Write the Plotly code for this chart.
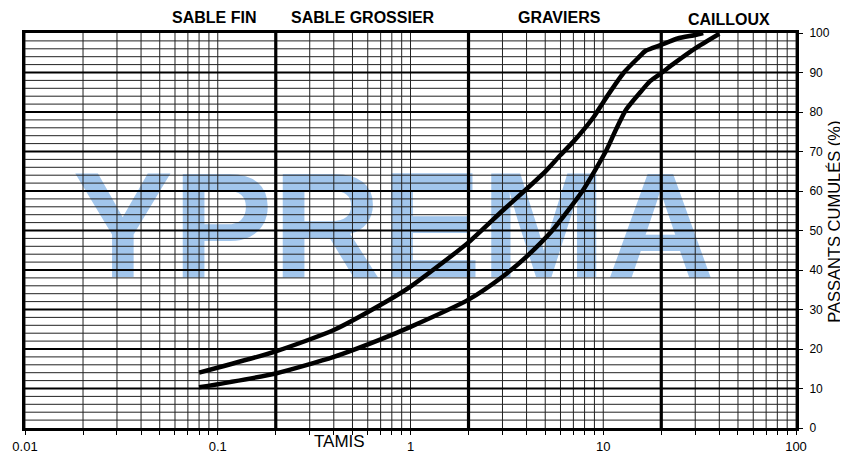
import plotly.graph_objects as go

# ---- data ----
fin_x = [0.08, 0.2, 0.4, 0.69, 1.0, 2.0, 3.0, 4.0, 5.0, 6.0, 7.0, 8.0, 9.0, 10.0, 12.8, 15.1, 16.6, 20.0, 24.3, 30.0, 33.0]
fin_y = [14.0, 19.4, 24.8, 31.0, 35.8, 47.0, 55.0, 60.5, 64.9, 69.1, 72.5, 75.8, 79.0, 82.5, 90.0, 93.6, 95.5, 97.0, 98.6, 99.5, 100.0]
gros_x = [0.08, 0.2, 0.4, 0.69, 1.0, 2.0, 3.0, 4.0, 5.44, 7.8, 10.3, 11.5, 13.1, 15.7, 17.5, 20.2, 23.3, 30.0, 40.0]
gros_y = [10.3, 13.8, 18.0, 22.3, 25.6, 32.5, 38.3, 43.4, 50.0, 60.0, 70.0, 75.0, 80.5, 85.2, 87.8, 90.0, 92.3, 96.1, 99.8]

zones = ["SABLE FIN", "SABLE GROSSIER", "GRAVIERS", "CAILLOUX"]
zone_x = [-1.02, -0.244, 0.772, 1.653]   # log10 positions
zone_y = [1.0405, 1.0405, 1.038, 1.033]
zone_limits = [0.2, 2, 20]
decades = [0.01, 0.1, 1, 10, 100]
decade_labels = ["0.01", "0.1", "1", "10", "100"]
y_ticks = list(range(0, 101, 10))

FONT = "Liberation Sans, Arial, sans-serif"

fig = go.Figure()

# watermark (below grid)
fig.add_trace(go.Scatter(
    x=[0.817], y=[47.8], mode="text", text=["<b>YPREMA</b>"],
    textfont=dict(family=FONT, size=150, color="#a2c6ec"),
    hoverinfo="skip", showlegend=False, cliponaxis=True))

# minor vertical positions
minor_x = []
for d in decades[:-1]:
    for k in range(1, 10):
        minor_x.append(k * d)
minor_x.append(100)

def vlines(xs):
    X, Y = [], []
    for v in xs:
        X += [v, v, None]; Y += [0, 100, None]
    return X, Y

def hlines(ys):
    X, Y = [], []
    for v in ys:
        X += [0.01, 100, None]; Y += [v, v, None]
    return X, Y

thin_v = [v for v in minor_x if not any(abs(v - z) < 1e-9 for z in zone_limits)]
X, Y = vlines(thin_v)
fig.add_trace(go.Scatter(x=X, y=Y, mode="lines", line=dict(color="#222", width=1),
                         hoverinfo="skip", showlegend=False))
thin_h = [v for v in range(2, 100, 2) if v % 10]
X, Y = hlines(thin_h)
fig.add_trace(go.Scatter(x=X, y=Y, mode="lines", line=dict(color="#222", width=1),
                         hoverinfo="skip", showlegend=False))
X, Y = hlines(list(range(10, 100, 10)))
fig.add_trace(go.Scatter(x=X, y=Y, mode="lines", line=dict(color="black", width=2.2),
                         hoverinfo="skip", showlegend=False))
X, Y = vlines(zone_limits)
fig.add_trace(go.Scatter(x=X, y=Y, mode="lines", line=dict(color="black", width=3.2),
                         hoverinfo="skip", showlegend=False))

# curves
for cx, cy in [(fin_x, fin_y), (gros_x, gros_y)]:
    fig.add_trace(go.Scatter(x=cx, y=cy, mode="lines",
                             line=dict(color="black", width=4.5, shape="spline", smoothing=0.6),
                             hoverinfo="skip", showlegend=False))

tickvals = minor_x
ticktext = [decade_labels[decades.index(v)] if v in decades else "" for v in minor_x]

fig.update_xaxes(type="log", range=[-2, 2], showgrid=False, zeroline=False,
                 tickvals=tickvals, ticktext=ticktext, ticks="outside", ticklen=4,
                 tickcolor="black", tickwidth=1, ticklabelstandoff=0, automargin=False,
                 tickfont=dict(family=FONT, size=13, color="black"),
                 showline=True, linecolor="black", linewidth=3, mirror=True)
fig.update_yaxes(range=[0, 100], side="right", showgrid=False, zeroline=False,
                 tickvals=y_ticks, ticks="outside", ticklen=4, tickcolor="black",
                 ticklabelstandoff=4, automargin=False,
                 tickfont=dict(family=FONT, size=12, color="black"),
                 showline=True, linecolor="black", linewidth=3, mirror=True)

annotations = []
for t, x, y in zip(zones, zone_x, zone_y):
    annotations.append(dict(text="<b>%s</b>" % t, x=x, y=y, xref="x", yref="paper",
                            showarrow=False, xanchor="center", yanchor="middle",
                            font=dict(family=FONT, size=16, color="black")))
annotations.append(dict(text="TAMIS", x=-0.368, y=-0.033, xref="x", yref="paper",
                        showarrow=False, xanchor="center", yanchor="middle",
                        font=dict(family=FONT, size=17, color="black")))
annotations.append(dict(text="PASSANTS CUMULÉS (%)", x=1.049, y=0.5215, xref="paper",
                        yref="paper", showarrow=False, textangle=-90,
                        xanchor="center", yanchor="middle",
                        font=dict(family=FONT, size=16.5, color="black")))

# page body has an 8px margin: figure is sized/placed to compensate
fig.update_layout(width=840, height=444, margin=dict(l=17, r=52, t=25, b=24, autoexpand=False),
                  paper_bgcolor="white", plot_bgcolor="white",
                  annotations=annotations, showlegend=False)

fig.write_html("out.html")
